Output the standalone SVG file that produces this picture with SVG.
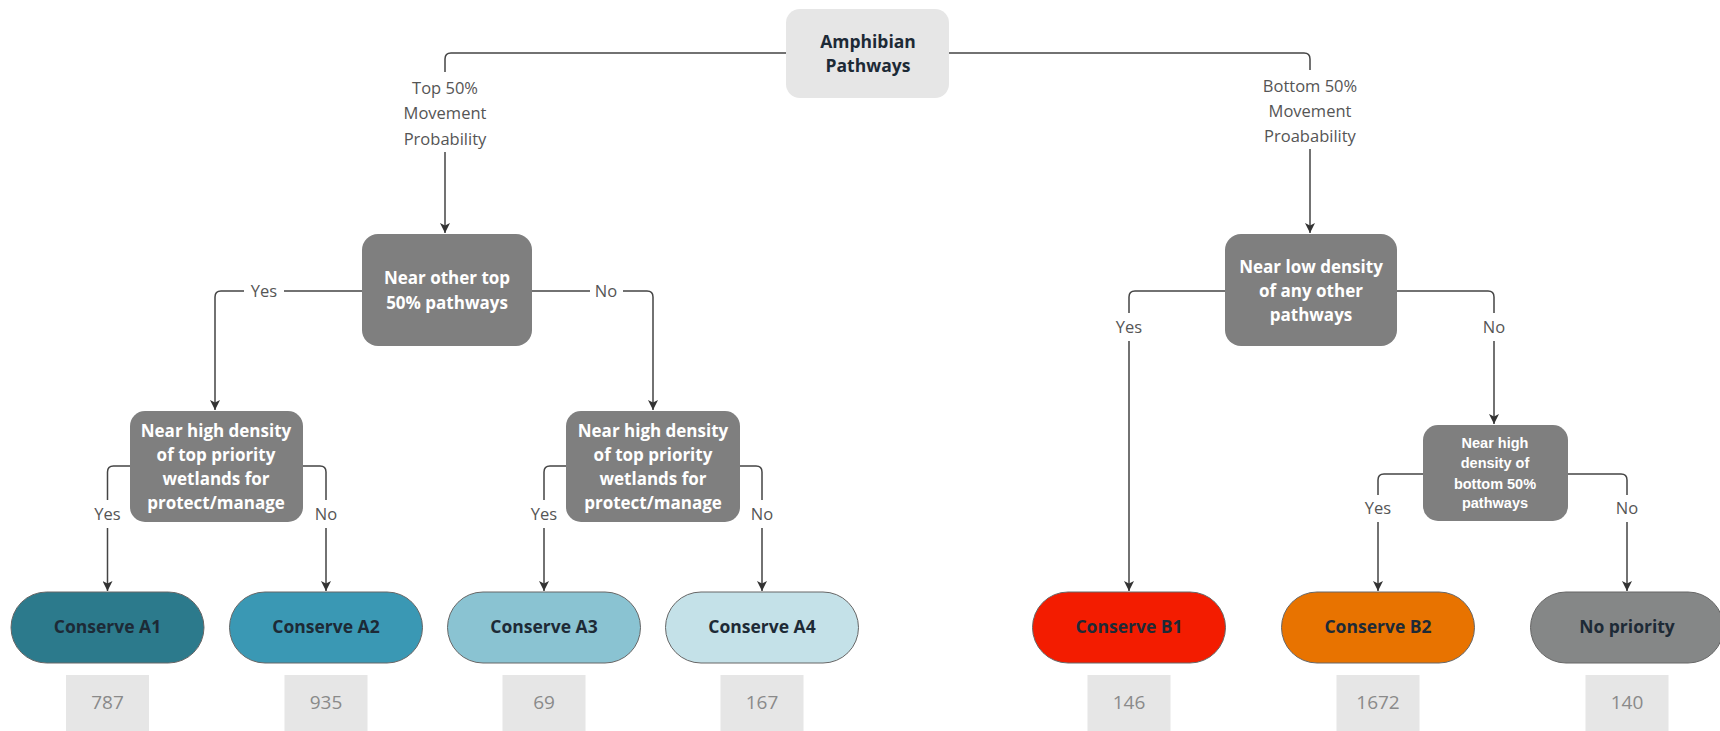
<svg xmlns="http://www.w3.org/2000/svg" width="1720" height="731" viewBox="0 0 1720 731">
<defs>
<marker id="arr" viewBox="0 0 10 10" refX="10" refY="5" markerWidth="10" markerHeight="10" markerUnits="userSpaceOnUse" orient="auto">
<path d="M0,0 L10,5 L0,10 L2.5,5 z" fill="#333"/>
</marker>
<style>
.c{fill:none;stroke:#444;stroke-width:1.5}
.lbl{font-family:"Open Sans","Noto Sans",sans-serif;font-size:16.5px;fill:#555;text-anchor:middle}
.dec{fill:#7f7f7f}
.dt{font-family:"Open Sans","Noto Sans",sans-serif;font-size:17px;font-weight:bold;fill:#fff;text-anchor:middle}
.dt2{font-family:"Liberation Sans",Arial,sans-serif;font-size:14.5px;font-weight:bold;fill:#fff;text-anchor:middle}
.term{stroke:#666;stroke-width:1}
.tt{font-family:"Open Sans","Noto Sans",sans-serif;font-size:17.5px;font-weight:bold;fill:#1d2a36;text-anchor:middle}
.cnt{fill:#e6e6e6}
.ct{font-family:"Open Sans","Noto Sans",sans-serif;font-size:19px;fill:#8a8a8a;text-anchor:middle}
</style>
</defs>
<rect width="1720" height="731" fill="#fff"/>
<g id="connectors">
<path class="c" d="M786,53 H451 Q445,53 445,59 V72"/>
<path class="c" d="M445,152 V233" marker-end="url(#arr)"/>
<path class="c" d="M949,53 H1304 Q1310,53 1310,59 V70"/>
<path class="c" d="M1310,149 V233" marker-end="url(#arr)"/>
<path class="c" d="M362,291 H284 M244,291 H221 Q215,291 215,297 V410" marker-end="url(#arr)"/>
<path class="c" d="M532,291 H590 M623,291 H647 Q653,291 653,297 V410" marker-end="url(#arr)"/>
<path class="c" d="M130,466 H113.5 Q107.5,466 107.5,472 V500 M107.5,528 V591" marker-end="url(#arr)"/>
<path class="c" d="M303,466 H320 Q326,466 326,472 V500 M326,528 V591" marker-end="url(#arr)"/>
<path class="c" d="M566,466 H550 Q544,466 544,472 V500 M544,528 V591" marker-end="url(#arr)"/>
<path class="c" d="M740,466 H756 Q762,466 762,472 V500 M762,528 V591" marker-end="url(#arr)"/>
<path class="c" d="M1225,291 H1135 Q1129,291 1129,297 V313 M1129,341 V591" marker-end="url(#arr)"/>
<path class="c" d="M1397,291 H1488 Q1494,291 1494,297 V313 M1494,341 V424" marker-end="url(#arr)"/>
<path class="c" d="M1423,474 H1384 Q1378,474 1378,480 V495 M1378,522 V591" marker-end="url(#arr)"/>
<path class="c" d="M1568,474 H1621 Q1627,474 1627,480 V495 M1627,522 V591" marker-end="url(#arr)"/>
<text class="lbl" x="445" y="94">Top 50%</text>
<text class="lbl" x="445" y="119">Movement</text>
<text class="lbl" x="445" y="145">Probability</text>
<text class="lbl" x="1310" y="92">Bottom 50%</text>
<text class="lbl" x="1310" y="117">Movement</text>
<text class="lbl" x="1310" y="142">Proabability</text>
<text class="lbl" x="264" y="297">Yes</text>
<text class="lbl" x="606" y="297">No</text>
<text class="lbl" x="107.5" y="520">Yes</text>
<text class="lbl" x="326" y="520">No</text>
<text class="lbl" x="544" y="520">Yes</text>
<text class="lbl" x="762" y="520">No</text>
<text class="lbl" x="1129" y="333">Yes</text>
<text class="lbl" x="1494" y="333">No</text>
<text class="lbl" x="1378" y="514">Yes</text>
<text class="lbl" x="1627" y="514">No</text>
</g>
<g id="root">
<rect x="786" y="9" width="163" height="89" rx="14" fill="#e6e6e6"/>
<text class="tt" x="868" y="48" fill="#222">Amphibian</text>
<text class="tt" x="868" y="72" fill="#222">Pathways</text>
</g>
<g id="d1">
<rect class="dec" x="362" y="234" width="170" height="112" rx="16"/>
<text class="dt" x="447" y="284">Near other top</text>
<text class="dt" x="447" y="309">50% pathways</text>
</g>
<g id="d2">
<rect class="dec" x="130" y="411" width="173" height="111" rx="15"/>
<text class="dt" x="216" y="437">Near high density</text>
<text class="dt" x="216" y="461">of top priority</text>
<text class="dt" x="216" y="485">wetlands for</text>
<text class="dt" x="216" y="509">protect/manage</text>
</g>
<g id="d3">
<rect class="dec" x="566" y="411" width="174" height="111" rx="15"/>
<text class="dt" x="653" y="437">Near high density</text>
<text class="dt" x="653" y="461">of top priority</text>
<text class="dt" x="653" y="485">wetlands for</text>
<text class="dt" x="653" y="509">protect/manage</text>
</g>
<g id="d4">
<rect class="dec" x="1225" y="234" width="172" height="112" rx="16"/>
<text class="dt" x="1311" y="273">Near low density</text>
<text class="dt" x="1311" y="297">of any other</text>
<text class="dt" x="1311" y="321">pathways</text>
</g>
<g id="d5">
<rect class="dec" x="1423" y="425" width="145" height="96" rx="15"/>
<text class="dt2" x="1495" y="448">Near high</text>
<text class="dt2" x="1495" y="468">density of</text>
<text class="dt2" x="1495" y="489">bottom 50%</text>
<text class="dt2" x="1495" y="508">pathways</text>
</g>
<g id="a1">
<rect class="term" x="11" y="592" width="193" height="71" rx="35.5" fill="#2c7a8c"/>
<text class="tt" x="107.5" y="633">Conserve A1</text>
<rect class="cnt" x="66" y="675" width="83" height="56"/>
<text class="ct" x="107.5" y="709">787</text>
</g>
<g id="a2">
<rect class="term" x="229.5" y="592" width="193" height="71" rx="35.5" fill="#3a98b4"/>
<text class="tt" x="326" y="633">Conserve A2</text>
<rect class="cnt" x="284.5" y="675" width="83" height="56"/>
<text class="ct" x="326" y="709">935</text>
</g>
<g id="a3">
<rect class="term" x="447.5" y="592" width="193" height="71" rx="35.5" fill="#8ac3d2"/>
<text class="tt" x="544" y="633">Conserve A3</text>
<rect class="cnt" x="502.5" y="675" width="83" height="56"/>
<text class="ct" x="544" y="709">69</text>
</g>
<g id="a4">
<rect class="term" x="665.5" y="592" width="193" height="71" rx="35.5" fill="#c4e1e8"/>
<text class="tt" x="762" y="633">Conserve A4</text>
<rect class="cnt" x="720.5" y="675" width="83" height="56"/>
<text class="ct" x="762" y="709">167</text>
</g>
<g id="b1">
<rect class="term" x="1032.5" y="592" width="193" height="71" rx="35.5" fill="#f31c00"/>
<text class="tt" x="1129" y="633" fill="#3a1010">Conserve B1</text>
<rect class="cnt" x="1087.5" y="675" width="83" height="56"/>
<text class="ct" x="1129" y="709">146</text>
</g>
<g id="b2">
<rect class="term" x="1281.5" y="592" width="193" height="71" rx="35.5" fill="#e87300"/>
<text class="tt" x="1378" y="633" fill="#2e1e10">Conserve B2</text>
<rect class="cnt" x="1336.5" y="675" width="83" height="56"/>
<text class="ct" x="1378" y="709">1672</text>
</g>
<g id="np">
<rect class="term" x="1530.5" y="592" width="193" height="71" rx="35.5" fill="#858787"/>
<text class="tt" x="1627" y="633" fill="#222">No priority</text>
<rect class="cnt" x="1585.5" y="675" width="83" height="56"/>
<text class="ct" x="1627" y="709">140</text>
</g>
</svg>
